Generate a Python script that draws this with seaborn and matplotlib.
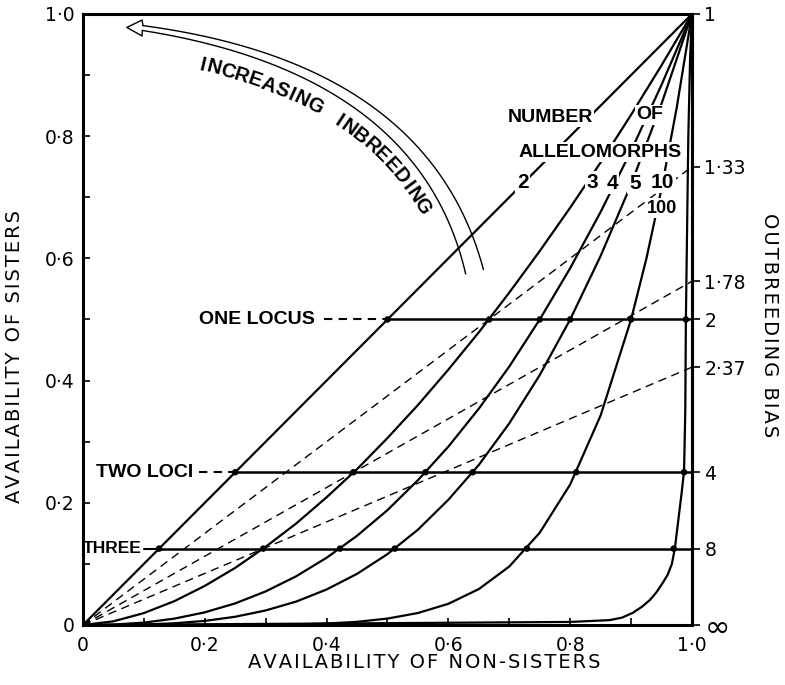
import numpy as np
import pandas as pd
import seaborn as sns
import matplotlib.pyplot as plt

# curves: availability of non-sisters (x) vs availability of sisters (y),
# one per number of allelomorphs
allelomorphs = ["2", "3", "4", "5", "10", "100"]

x_n2 = [0.0, 1.0]
y_n2 = [0.0, 1.0]

x_grid = [0.0, 0.05, 0.1, 0.15, 0.2, 0.25, 0.3, 0.35, 0.4, 0.45, 0.5,
          0.55, 0.6, 0.65, 0.7, 0.75, 0.8, 0.85, 0.9, 0.95, 1.0]
y_n3 = [0.0, 0.006, 0.0195, 0.039, 0.064, 0.0935, 0.128, 0.166, 0.209, 0.255, 0.306,
        0.36, 0.418, 0.479, 0.544, 0.612, 0.683, 0.757, 0.835, 0.916, 1.0]
y_n4 = [0.0, 0.0007, 0.0039, 0.0104, 0.0207, 0.0354, 0.055, 0.0797, 0.110, 0.146, 0.188,
        0.237, 0.292, 0.354, 0.423, 0.500, 0.584, 0.676, 0.776, 0.884, 1.0]
y_n5 = [0.0, 0.0001, 0.0008, 0.0028, 0.0067, 0.0135, 0.0238, 0.0383, 0.0581, 0.0837, 0.116,
        0.156, 0.205, 0.262, 0.330, 0.409, 0.500, 0.604, 0.721, 0.853, 1.0]

x_n10 = [0.0, 0.2, 0.3, 0.35, 0.4, 0.45, 0.5, 0.55, 0.6, 0.65, 0.7, 0.75, 0.8,
         0.85, 0.9, 0.925, 0.95, 0.975, 1.0]
y_n10 = [0.0, 0.0001, 0.0004, 0.001, 0.0024, 0.0052, 0.0105, 0.0196, 0.0347, 0.0588, 0.0957,
         0.151, 0.230, 0.343, 0.500, 0.599, 0.714, 0.847, 1.0]

x_n100 = [0.0, 0.5, 0.8, 0.865, 0.885, 0.903, 0.918, 0.931, 0.942, 0.952, 0.96, 0.967,
          0.972, 0.977, 0.983, 0.987, 0.989, 0.990, 0.992, 0.994, 0.997, 1.0]
y_n100 = [0.0, 0.003, 0.005, 0.008, 0.012, 0.02, 0.03, 0.041, 0.054, 0.069, 0.082, 0.1,
          0.126, 0.167, 0.216, 0.252, 0.35, 0.5, 0.65, 0.8, 0.93, 1.0]

# horizontal lines for one, two and three loci, with the dots where curves cross
loci_names = ["ONE LOCUS", "TWO LOCI", "THREE"]
loci_sisters = [0.5, 0.25, 0.125]
one_locus_x = [0.5, 0.667, 0.75, 0.8, 0.9, 0.99]
two_loci_x = [0.25, 0.444, 0.5625, 0.64, 0.81, 0.987]
three_loci_x = [0.125, 0.296, 0.422, 0.512, 0.729, 0.97]

# right hand axis: outbreeding bias
bias_labels = ["1", "1·33", "1·78", "2", "2·37", "4", "8", "∞"]
bias_sisters = [1.0, 0.75, 0.5625, 0.5, 0.4219, 0.25, 0.125, 0.0]
dashed_bias = [0.75, 0.5625, 0.4219]

curves = pd.concat([
    pd.DataFrame({"n": lab, "x": xs, "y": ys})
    for lab, xs, ys in zip(allelomorphs,
                           [x_n2, x_grid, x_grid, x_grid, x_n10, x_n100],
                           [y_n2, y_n3, y_n4, y_n5, y_n10, y_n100])
])
dots = pd.DataFrame({
    "x": one_locus_x + two_loci_x + three_loci_x,
    "y": [0.5] * 6 + [0.25] * 6 + [0.125] * 6,
})

sns.set_style("ticks", {"axes.edgecolor": "black", "text.color": "black",
                        "xtick.color": "black", "ytick.color": "black",
                        "axes.labelcolor": "black"})
plt.rcParams["font.family"] = ["DejaVu Sans"]
bold_font = ["Liberation Sans", "DejaVu Sans"]


def spaced(s):
    # hair space between letters, the printed labels are widely spaced
    return "\u200a".join(s)


fig = plt.figure(figsize=(7.85, 6.85), dpi=100)
ax = fig.add_axes([0.1057, 0.0876, 0.7758, 0.892])

sns.lineplot(data=curves, x="x", y="y", units="n", estimator=None, sort=False,
             color="black", lw=1.6, ax=ax, legend=False)

for b in dashed_bias:
    ax.plot([0, 1], [0, b], color="black", lw=1.0, linestyle=(0, (6, 4)))

for name, ys in zip(loci_names, loci_sisters):
    ax.plot([ys, 1.0], [ys, ys], color="black", lw=1.8)

sns.scatterplot(data=dots, x="x", y="y", color="black", s=22, edgecolor="none",
                zorder=5, ax=ax)

# loci labels with dashed leaders
ax.text(0.381, 0.5, "ONE LOCUS", ha="right", va="center", fontsize=14,
        fontweight="bold", family=bold_font)
ax.plot([0.395, 0.5], [0.5, 0.5], color="black", lw=1.5, linestyle=(0, (4, 3)))
ax.text(0.181, 0.25, "TWO LOCI", ha="right", va="center", fontsize=14,
        fontweight="bold", family=bold_font)
ax.plot([0.19, 0.25], [0.25, 0.25], color="black", lw=1.5, linestyle=(0, (4, 3)))
ax.text(0.096, 0.125, "THREE", ha="right", va="center", fontsize=12.5,
        fontweight="bold", family=bold_font)
ax.plot([0.1, 0.125], [0.125, 0.125], color="black", lw=1.5)

# allelomorph labels, white box breaks the lines under them
wbox = dict(facecolor="white", edgecolor="none", pad=1.0)
label_pos = {"2": (0.722, 0.725), "3": (0.836, 0.725), "4": (0.869, 0.723),
             "5": (0.906, 0.723), "10": (0.952, 0.725), "100": (0.951, 0.682)}
for lab, (tx, ty) in label_pos.items():
    ax.text(tx, ty, lab, ha="center", va="center", fontsize=15 if lab != "100" else 13,
            family=bold_font, fontweight="bold", bbox=wbox, zorder=6)
ax.text(0.767, 0.831, "NUMBER", ha="center", va="center", fontsize=14,
        fontweight="bold", family=bold_font, bbox=wbox, zorder=6)
ax.text(0.931, 0.835, "OF", ha="center", va="center", fontsize=14,
        fontweight="bold", family=bold_font, bbox=wbox, zorder=6)
ax.text(0.849, 0.774, "ALLELOMORPHS", ha="center", va="center", fontsize=14,
        fontweight="bold", family=bold_font, bbox=wbox, zorder=6)

# curved hollow arrow "increasing inbreeding"
p0 = np.array([0.643, 0.578])
p1 = np.array([0.56, 0.91])
p2 = np.array([0.098, 0.977])
t = np.linspace(0, 1, 400)[:, None]
bez = (1 - t) ** 2 * p0 + 2 * t * (1 - t) * p1 + t ** 2 * p2
d = 2 * (1 - t) * (p1 - p0) + 2 * t * (p2 - p1)
norm_in = np.column_stack([-d[:, 1], d[:, 0]]) / np.hypot(d[:, 0], d[:, 1])[:, None]
half = 0.015 * (1 - t) + 0.004 * t
inner = bez + half * norm_in
outer = bez - half * norm_in
ax.plot(inner[:, 0], inner[:, 1], color="black", lw=1.0)
ax.plot(outer[:, 0], outer[:, 1], color="black", lw=1.0)
head = np.array([outer[-1], [0.097, 0.990], [0.072, 0.978], [0.097, 0.964], inner[-1]])
ax.plot(head[:, 0], head[:, 1], color="black", lw=1.0)

# letters along the arrow, on its inner side, spaced by rough glyph width
word = "INCREASING INBREEDING"
widths = np.array([0.5 if ch == "I" else 1.0 if ch == " " else 0.9 if ch in "MW" else 0.8
                   for ch in word])
centres = np.cumsum(widths) - widths / 2
centres = (centres - centres[0]) / (centres[-1] - centres[0])
path = bez + 0.041 * norm_in
start = np.argmin(np.hypot(path[:, 0] - 0.197, path[:, 1] - 0.921))
end = np.argmin(np.hypot(path[:, 0] - 0.537, path[:, 1] - 0.674))
seg = path[end:start + 1][::-1]
ds = np.concatenate([[0], np.cumsum(np.hypot(np.diff(seg[:, 0]), np.diff(seg[:, 1])))])
dseg = -d[end:start + 1][::-1]
for ch, c in zip(word, centres):
    k = np.searchsorted(ds, ds[-1] * c).clip(0, len(seg) - 1)
    ang = np.degrees(np.arctan2(dseg[k, 1], dseg[k, 0]))
    ax.text(seg[k, 0], seg[k, 1], ch, ha="center", va="center", rotation=ang,
            rotation_mode="anchor", fontsize=14.5, fontweight="bold", family=bold_font)

# axes styling
ax.set_xlim(0, 1)
ax.set_ylim(0, 1)
major = [0, 0.2, 0.4, 0.6, 0.8, 1.0]
major_labels = ["0", "0·2", "0·4", "0·6", "0·8", "1·0"]
ax.set_xticks(major)
ax.set_xticklabels(major_labels)
ax.set_yticks(major)
ax.set_yticklabels(major_labels)
ax.set_xticks([0.1, 0.3, 0.5, 0.7, 0.9], minor=True)
ax.set_yticks([0.1, 0.3, 0.5, 0.7, 0.9], minor=True)
ax.tick_params(which="both", direction="in", length=5, width=1.2, labelsize=13.5,
               top=False, right=False)
ax.tick_params(axis="x", pad=8)
ax.tick_params(axis="y", pad=6)
for sp in ax.spines.values():
    sp.set_visible(True)
    sp.set_linewidth(2.2)
ax.set_xlabel("")
ax.set_ylabel("")
ax.text(0.56, -0.062, spaced("AVAILABILITY OF NON-SISTERS"), transform=ax.transAxes,
        ha="center", va="center", fontsize=14)
ax.text(-0.112, 0.44, spaced("AVAILABILITY OF SISTERS"), transform=ax.transAxes,
        ha="center", va="center", rotation=90, fontsize=14)

ax2 = ax.twinx()
ax2.set_ylim(0, 1)
ax2.set_yticks(bias_sisters)
ax2.set_yticklabels(bias_labels)
ax2.tick_params(axis="y", direction="out", length=6, width=1.2, labelsize=13.5, pad=3)
for lbl in ax2.get_yticklabels():
    if lbl.get_text() == "∞":
        lbl.set_fontsize(22)
for sp in ["top", "bottom", "left"]:
    ax2.spines[sp].set_visible(False)
ax2.spines["right"].set_linewidth(2.2)
ax2.text(1.128, 0.49, spaced("OUTBREEDING BIAS"), transform=ax2.transAxes,
         ha="center", va="center", rotation=-90, fontsize=14)

fig.savefig("out.png", dpi=100)
